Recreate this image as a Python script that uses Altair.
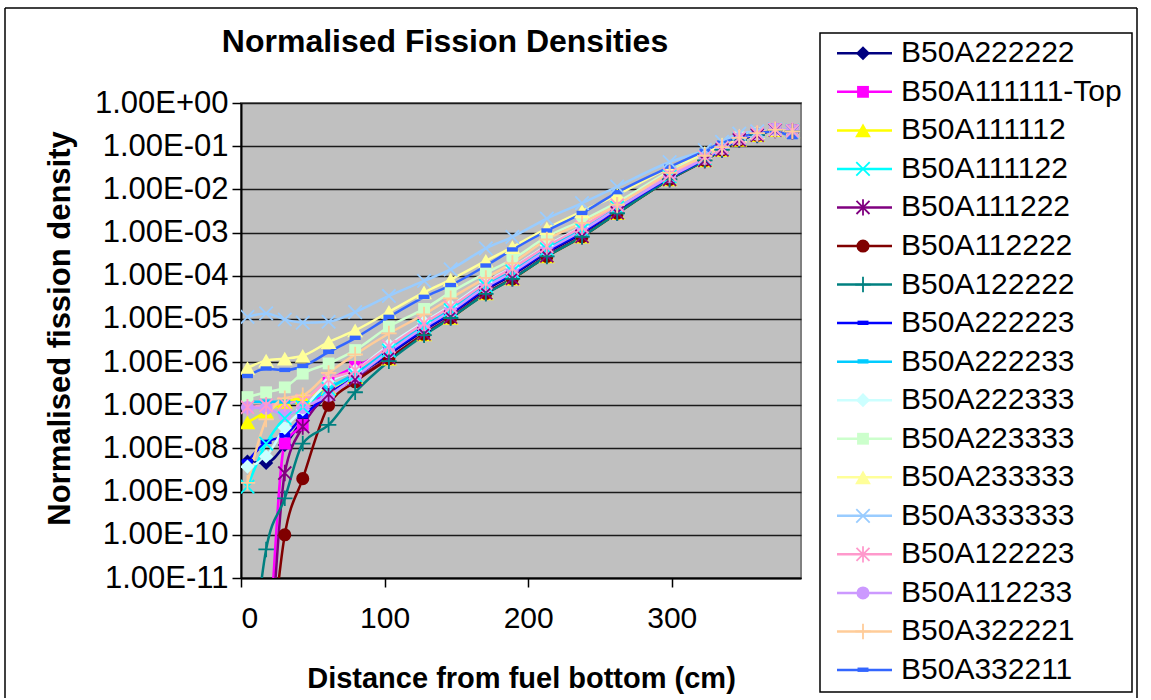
import altair as alt
import pandas as pd

# ---------------- data ----------------
x_cm = [4.5, 17.5, 30.5, 43, 61, 79.5, 103, 127.5, 146, 170.5, 189, 213,
        237.5, 262, 298.5, 323, 335, 347, 359.5, 372, 384]

series_names = ["B50A222222", "B50A111111-Top", "B50A111112", "B50A111122",
                "B50A111222", "B50A112222", "B50A122222", "B50A222223",
                "B50A222233", "B50A222333", "B50A223333", "B50A233333",
                "B50A333333", "B50A122223", "B50A112233", "B50A322221",
                "B50A332211"]

series_colors = ["#000080", "#FF00FF", "#FFFF00", "#00FFFF", "#800080", "#800000",
                 "#008080", "#0000FF", "#00CCFF", "#CCFFFF", "#CCFFCC", "#FFFF99",
                 "#99CCFF", "#FF99CC", "#CC99FF", "#FFCC99", "#3366FF"]

X_PATH = "M-1,-1L1,1M-1,1L1,-1"
AST_PATH = "M-1,-1L1,1M-1,1L1,-1M0,-1.25L0,1.25"
PLUS_PATH = "M-1,0L1,0M0,-1L0,1"
DASH_PATH = "M-1,-0.45L1,-0.45L1,0.35L-1,0.35Z"

series_shapes = ["diamond", "square", "triangle-up", X_PATH, AST_PATH, "circle",
                 PLUS_PATH, DASH_PATH, DASH_PATH, "diamond", "square", "triangle-up",
                 X_PATH, AST_PATH, "circle", PLUS_PATH, DASH_PATH]
series_filled = [True, True, True, False, False, True, False, True, True, True, True,
                 True, False, False, True, False, True]
series_sizes = [200, 140, 250, 180, 170, 170, 240, 120, 120, 200, 140, 250, 180, 170,
                170, 240, 120]

v_222222 = [5e-9, 4.6e-9, 1.2e-8, 4.5e-8, 1.7e-7, 4.5e-7, 1.5e-6, 5.4e-6, 1.3e-5, 4.7e-5, 1.05e-4,
            3.4e-4, 9.6e-4, 3.2e-3, 1.8e-2, 4.9e-2, 8.5e-2, 0.145, 0.185, 0.24, 0.225]
v_111111top = [1e-17, 3.5e-14, 1.3e-8, 3.5e-8, 3.3e-7, 7.7e-7, 1.9e-6, 6e-6, 1.45e-5, 5.2e-5, 1.15e-4,
               3.7e-4, 1.05e-3, 3.5e-3, 1.9e-2, 5.1e-2, 8.8e-2, 0.15, 0.19, 0.245, 0.23]
v_111112 = [4e-8, 7e-8, 1.2e-7, 1.5e-7, 2.5e-7, 4.5e-7, 1.2e-6, 4.4e-6, 1.05e-5, 3.9e-5, 8.5e-5,
            2.8e-4, 8e-4, 2.8e-3, 1.7e-2, 4.7e-2, 8.2e-2, 0.14, 0.18, 0.235, 0.22]
v_111122 = [1.3e-9, 1.3e-8, 5e-8, 9e-8, 2.4e-7, 5e-7, 1.85e-6, 6.6e-6, 1.6e-5, 5.8e-5, 1.25e-4,
            4.1e-4, 1.15e-3, 3.8e-3, 2e-2, 5.3e-2, 9e-2, 0.15, 0.19, 0.245, 0.23]
v_111222 = [1e-17, 1e-14, 2.7e-9, 3.2e-8, 1.8e-7, 4e-7, 1.25e-6, 4.5e-6, 1.1e-5, 4e-5, 8.7e-5,
            2.9e-4, 8.2e-4, 2.85e-3, 1.7e-2, 4.7e-2, 8.2e-2, 0.14, 0.18, 0.235, 0.22]
v_112222 = [1e-17, 2e-14, 1e-10, 2e-9, 1e-7, 3.5e-7, 1.2e-6, 4.4e-6, 1.05e-5, 3.9e-5, 8.5e-5,
            2.8e-4, 8e-4, 2.8e-3, 1.7e-2, 4.7e-2, 8.2e-2, 0.14, 0.18, 0.235, 0.22]
v_122222 = [1e-14, 4.6e-11, 7e-10, 1.3e-8, 3.5e-8, 2e-7, 1.05e-6, 4.2e-6, 1.05e-5, 3.8e-5, 8.5e-5,
            2.8e-4, 8e-4, 2.8e-3, 1.7e-2, 4.7e-2, 8.2e-2, 0.14, 0.18, 0.235, 0.22]
v_222223 = [5e-9, 1.4e-8, 2e-8, 5.5e-8, 1.8e-7, 4.5e-7, 1.6e-6, 5.7e-6, 1.35e-5, 5e-5, 1.1e-4,
            3.6e-4, 1e-3, 3.4e-3, 1.85e-2, 5e-2, 8.6e-2, 0.145, 0.185, 0.24, 0.225]
v_222233 = [1.2e-7, 1.2e-7, 1.2e-7, 1.1e-7, 2.5e-7, 5.5e-7, 2.1e-6, 7.5e-6, 1.8e-5, 6.5e-5, 1.4e-4,
            4.6e-4, 1.3e-3, 4.2e-3, 2.15e-2, 5.6e-2, 9.3e-2, 0.155, 0.195, 0.245, 0.23]
v_222333 = [3.8e-9, 6.5e-9, 3e-8, 8e-8, 3.4e-7, 6.5e-7, 2.5e-6, 8.5e-6, 2e-5, 7.2e-5, 1.55e-4,
            5e-4, 1.4e-3, 4.5e-3, 2.2e-2, 5.7e-2, 9.5e-2, 0.155, 0.195, 0.245, 0.23]
v_223333 = [1.55e-7, 2e-7, 2.6e-7, 5.4e-7, 9.3e-7, 1.9e-6, 6.6e-6, 1.7e-5, 4.1e-5, 1.15e-4, 2.4e-4,
            7.9e-4, 1.9e-3, 5e-3, 2.6e-2, 6.5e-2, 0.1, 0.16, 0.2, 0.24, 0.22]
v_233333 = [7.3e-7, 1.08e-6, 1.2e-6, 1.4e-6, 2.9e-6, 5.4e-6, 1.45e-5, 4.1e-5, 8.1e-5, 2.2e-4, 4.6e-4,
            1.25e-3, 3.1e-3, 7.5e-3, 3.2e-2, 7e-2, 0.11, 0.175, 0.21, 0.245, 0.225]
v_333333 = [1.12e-5, 1.34e-5, 9.7e-6, 8.2e-6, 8.6e-6, 1.44e-5, 3.4e-5, 7.6e-5, 1.4e-4, 4.3e-4, 7.9e-4,
            2.1e-3, 4.8e-3, 1.16e-2, 4.3e-2, 8.1e-2, 0.126, 0.196, 0.22, 0.245, 0.22]
v_122223 = [9e-8, 1e-7, 1.1e-7, 1.3e-7, 3.9e-7, 6.5e-7, 2.3e-6, 8e-6, 1.9e-5, 6.8e-5, 1.5e-4,
            4.8e-4, 1.35e-3, 4.3e-3, 2.2e-2, 5.6e-2, 9.3e-2, 0.155, 0.195, 0.245, 0.23]
v_112233 = [8.9e-8, 8.5e-8, 5.9e-8, 8.9e-8, 1.7e-7, 4.5e-7, 1.73e-6, 6.3e-6, 1.5e-5, 5.5e-5, 1.2e-4,
            3.9e-4, 1.1e-3, 3.6e-3, 1.95e-2, 5.2e-2, 8.9e-2, 0.15, 0.19, 0.245, 0.23]
v_322221 = [1.6e-9, 4.7e-8, 1.45e-7, 1.7e-7, 5.6e-7, 1.5e-6, 4.6e-6, 1.27e-5, 3e-5, 8.9e-5, 1.96e-4,
            6.9e-4, 1.67e-3, 4.4e-3, 2.4e-2, 6e-2, 0.095, 0.155, 0.2, 0.24, 0.22]
v_332211 = [4.7e-7, 7e-7, 6.5e-7, 8e-7, 1.7e-6, 3.6e-6, 1.1e-5, 3.2e-5, 6e-5, 1.7e-4, 4e-4,
            1.1e-3, 2.8e-3, 8.5e-3, 3.3e-2, 7.8e-2, 0.12, 0.16, 0.2, 0.22, 0.16]

series_values = [v_222222, v_111111top, v_111112, v_111122, v_111222, v_112222, v_122222,
                 v_222223, v_222233, v_222333, v_223333, v_233333, v_333333, v_122223,
                 v_112233, v_322221, v_332211]

y_ticks = [1e-11, 1e-10, 1e-9, 1e-8, 1e-7, 1e-6, 1e-5, 1e-4, 1e-3, 1e-2, 1e-1, 1.0]
x_ticks = [0, 100, 200, 300]
title_text = ["Normalised Fission Densities"]

# ---------------- tables ----------------
rows = []
for i, (name, vals) in enumerate(zip(series_names, series_values)):
    for x, v in zip(x_cm, vals):
        rows.append({"series": name, "idx": i, "x": x, "y": v,
                     "col": series_colors[i], "shp": series_shapes[i],
                     "sz": series_sizes[i], "filled": series_filled[i]})
df = pd.DataFrame(rows)
df_fill = df[df["filled"]]
df_stroke = df[~df["filled"]]

leg = pd.DataFrame({"series": series_names, "idx": list(range(len(series_names))),
                    "col": series_colors, "shp": series_shapes, "sz": series_sizes,
                    "filled": series_filled})
leg_fill = leg[leg["filled"]]
leg_stroke = leg[~leg["filled"]]

FONT = "Liberation Sans"

label_expr = ("'1.00E' + (round(log(datum.value)/LN10) >= 0 ? '+' : '-') + "
              "(abs(round(log(datum.value)/LN10)) < 10 ? '0' : '') + "
              "abs(round(log(datum.value)/LN10))")

x_axis = alt.Axis(values=x_ticks, grid=False, tickSize=9, tickColor="black", tickWidth=1.5,
                  domainColor="black", domainWidth=2, labelFont=FONT, labelFontSize=30,
                  labelColor="black", labelPadding=16, title="Distance from fuel bottom (cm)",
                  titleFont=FONT, titleFontSize=29, titleFontWeight="bold", titleColor="black",
                  titleY=100, titleBaseline="middle")
y_axis = alt.Axis(values=y_ticks, labelExpr=label_expr, tickSize=9, tickColor="black",
                  tickWidth=1.5, domainColor="black", domainWidth=2, grid=True,
                  gridColor="#1a1a1a", gridWidth=1.5, labelFont=FONT, labelFontSize=31,
                  labelColor="black", labelPadding=4, title="Normalised fission density",
                  titleFont=FONT, titleFontSize=31, titleFontWeight="bold", titleColor="black",
                  titleX=-181, titleY=225, titleBaseline="middle", titleAngle=-90)

xs = alt.Scale(domain=[0, 390], nice=False, zero=False)
ys = alt.Scale(type="log", domain=[1e-11, 1], nice=False)

X = alt.X("x:Q", scale=xs, axis=x_axis)
Y = alt.Y("y:Q", scale=ys, axis=y_axis)

lines = alt.Chart(df).mark_line(clip=True, interpolate="monotone", strokeWidth=2.5).encode(
    x=X, y=Y, color=alt.Color("col:N", scale=None), detail="series:N", order="x:Q")
pts_f = alt.Chart(df_fill).mark_point(clip=True, filled=True, opacity=1).encode(
    x=X, y=Y, color=alt.Color("col:N", scale=None), shape=alt.Shape("shp:N", scale=None),
    size=alt.Size("sz:Q", scale=None))
pts_s = alt.Chart(df_stroke).mark_point(clip=True, filled=False, opacity=1, strokeWidth=1.8).encode(
    x=X, y=Y, color=alt.Color("col:N", scale=None), shape=alt.Shape("shp:N", scale=None),
    size=alt.Size("sz:Q", scale=None))

main = alt.layer(lines, pts_f, pts_s)

# ---------------- legend, title & frame ----------------
LY = alt.Y("idx:Q", scale=alt.Scale(domain=[0, 16], range=[-49.7, 567]), axis=None)

one = pd.DataFrame({"t": title_text})
outer_l = alt.Chart(one).mark_rule(color="black", strokeWidth=1.5).encode(
    x=alt.value(-236), y=alt.value(-95), y2=alt.value(595))
outer_t = alt.Chart(one).mark_rule(color="black", strokeWidth=1.5).encode(
    x=alt.value(-236), x2=alt.value(896), y=alt.value(-95))
outer_r = alt.Chart(one).mark_rule(color="black", strokeWidth=1.5).encode(
    x=alt.value(896), y=alt.value(-95), y2=alt.value(595))
box = alt.Chart(one).mark_rect(fill="white", stroke="black", strokeWidth=1.5).encode(
    x=alt.value(579), x2=alt.value(891), y=alt.value(-70), y2=alt.value(589))
title = alt.Chart(one).mark_text(align="center", baseline="alphabetic", font=FONT,
                                 fontSize=32, fontWeight="bold", color="black").encode(
    x=alt.value(204), y=alt.value(-51), text="t:N")

leg_lines = alt.Chart(leg).mark_rule(strokeWidth=2.5).encode(
    x=alt.value(596), x2=alt.value(651), y=LY, color=alt.Color("col:N", scale=None))
leg_pf = alt.Chart(leg_fill).mark_point(filled=True, opacity=1).encode(
    x=alt.value(622), y=LY, color=alt.Color("col:N", scale=None),
    shape=alt.Shape("shp:N", scale=None), size=alt.Size("sz:Q", scale=None))
leg_ps = alt.Chart(leg_stroke).mark_point(filled=False, opacity=1, strokeWidth=1.8).encode(
    x=alt.value(622), y=LY, color=alt.Color("col:N", scale=None),
    shape=alt.Shape("shp:N", scale=None), size=alt.Size("sz:Q", scale=None))
leg_text = alt.Chart(leg).mark_text(align="left", baseline="middle", font=FONT, fontSize=30,
                                    color="black").encode(
    x=alt.value(660), y=LY, text="series:N")

legend = alt.layer(outer_l, outer_t, outer_r, box, title, leg_lines, leg_pf, leg_ps, leg_text)

chart = alt.layer(main, legend).resolve_scale(y="independent").properties(
    width=560, height=475,
    padding={"left": 4, "top": 7, "right": 0, "bottom": 0},
    background="white",
).configure_view(fill="#C0C0C0", stroke="#808080", strokeWidth=2)

chart.save("out.html", embed_options={"renderer": "svg", "actions": False})
